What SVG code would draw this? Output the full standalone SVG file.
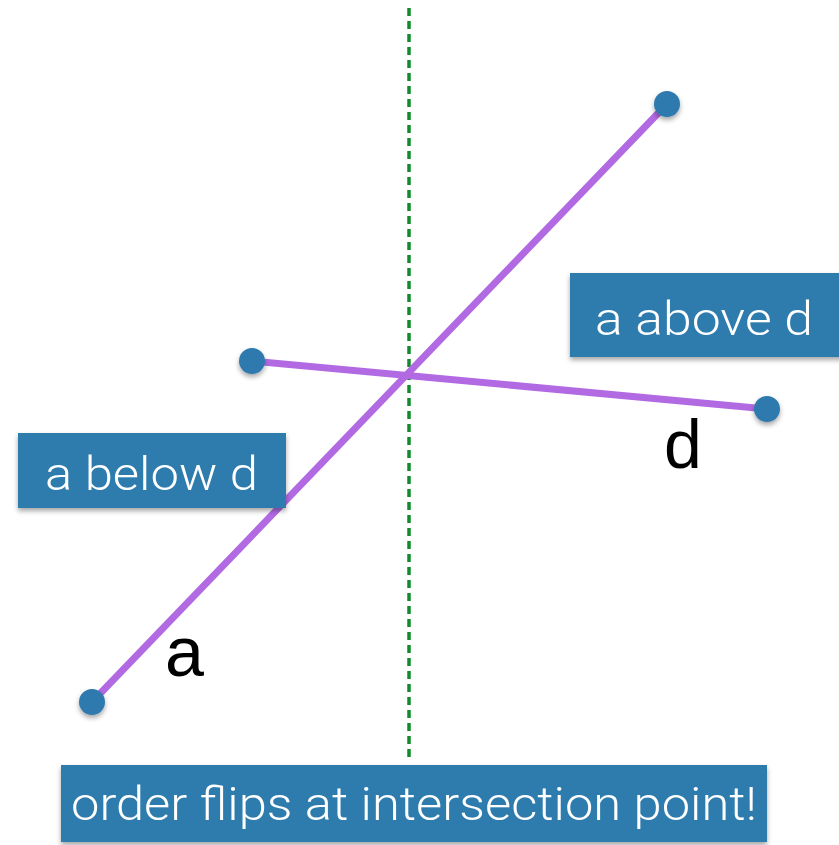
<svg xmlns="http://www.w3.org/2000/svg" width="839" height="845" viewBox="0 0 839 845">
<style>
.seg{stroke:#b26ae3;stroke-width:7;stroke-linecap:round;fill:none}
.dot{fill:#2e79ae;filter:url(#sh)}
.box{fill:#2f7bad;filter:url(#sh)}
.bt{fill:#fff;font-family:Roboto,"Liberation Sans",Arial,sans-serif;font-weight:300;font-size:46px}
.lbl{fill:#000;font-family:"Liberation Sans",Arial,sans-serif}
</style>
<defs>
<filter id="sh" x="-20%" y="-20%" width="140%" height="150%">
<feDropShadow dx="0" dy="3" stdDeviation="2.5" flood-color="#000" flood-opacity="0.35"/>
</filter>
</defs>
<rect width="839" height="845" fill="#fff"/>
<g id="connectors">
<line x1="409" y1="8" x2="409" y2="760" stroke="#128a2c" stroke-width="3.5" stroke-dasharray="8,5"/>
<line class="seg" x1="92" y1="702" x2="667" y2="104"/>
<line class="seg" x1="252" y1="361" x2="767" y2="409"/>
</g>
<g id="dots">
<circle class="dot" cx="667" cy="104" r="13"/>
<circle class="dot" cx="92" cy="702" r="13"/>
<circle class="dot" cx="252" cy="361" r="13"/>
<circle class="dot" cx="767" cy="409" r="13"/>
</g>
<g id="label-a"><text class="lbl" x="165" y="676" font-size="70">a</text></g>
<g id="label-d"><text class="lbl" x="664" y="468" font-size="68">d</text></g>
<g id="box-above">
<rect class="box" x="570" y="273" width="275" height="84"/>
<text class="bt" x="595" y="335" textLength="218" lengthAdjust="spacingAndGlyphs">a above d</text>
</g>
<g id="box-below">
<rect class="box" x="18" y="433" width="268" height="75"/>
<text class="bt" x="45" y="490" textLength="213" lengthAdjust="spacingAndGlyphs">a below d</text>
</g>
<g id="box-bottom">
<rect class="box" x="61" y="765" width="706" height="77"/>
<text class="bt" x="71" y="820" font-size="48" textLength="686" lengthAdjust="spacingAndGlyphs">order flips at intersection point!</text>
</g>
</svg>
